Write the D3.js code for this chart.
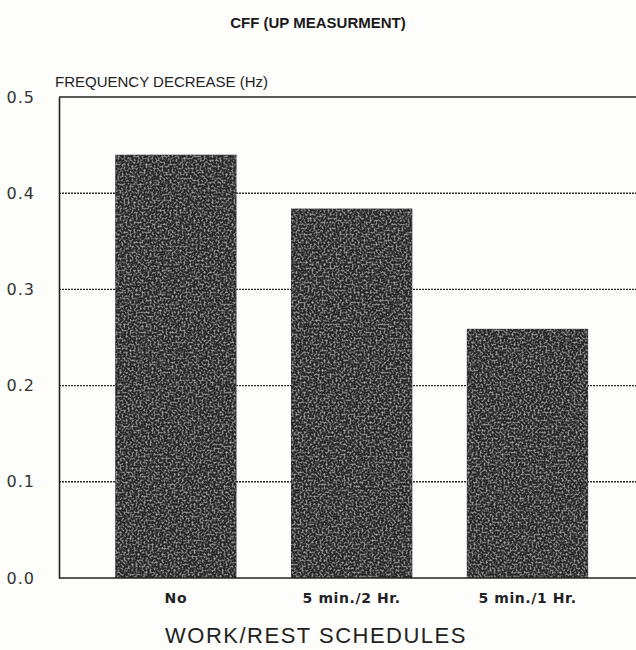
<!DOCTYPE html>
<html lang="en">
<head>
<meta charset="UTF-8">
<title>CFF (UP MEASURMENT)</title>
<script src="https://d3js.org/d3.v7.min.js"></script>
<style>
    body { margin: 0; background: #fdfdfc; }
    svg { display: block; font-family: "Liberation Sans", Arial, sans-serif; }
</style>
</head>
<body>
<div id="chart"></div>
<script>
    // data
    const categories = ["No", "5 min./2 Hr.", "5 min./1 Hr."];
    const values = [0.44, 0.384, 0.259];
    const yTicks = [0.0, 0.1, 0.2, 0.3, 0.4, 0.5];

    const width = 636, height = 650;
    const plotLeft = 59, plotRight = 636, plotTop = 97, plotBottom = 578;

    const svg = d3.select("#chart").append("svg")
        .attr("width", width)
        .attr("height", height);

    // speckle texture for the bars
    const defs = svg.append("defs");
    const f = defs.append("filter").attr("id", "grain")
        .attr("x", 0).attr("y", 0).attr("width", 1).attr("height", 1);
    f.append("feTurbulence").attr("type", "fractalNoise")
        .attr("baseFrequency", 0.5).attr("numOctaves", 2).attr("seed", 3).attr("result", "n");
    f.append("feColorMatrix").attr("in", "n").attr("type", "matrix")
        .attr("values", "0 0 0 0 0.4  0 0 0 0 0.4  0 0 0 0 0.4  0 0 0 -2.6 1.4")
        .attr("result", "spk");
    f.append("feComposite").attr("in", "spk").attr("in2", "SourceGraphic")
        .attr("operator", "in").attr("result", "spk2");
    f.append("feMerge").call(m => {
        m.append("feMergeNode").attr("in", "SourceGraphic");
        m.append("feMergeNode").attr("in", "spk2");
    });

    const y = d3.scaleLinear().domain([0, 0.5]).range([plotBottom, plotTop]);
    const x = d3.scaleBand().domain(categories)
        .range([plotLeft, plotRight])
        .paddingInner(0.31)
        .paddingOuter(0.296)
        .align(0.54);

    // title
    svg.append("text")
        .attr("x", 318).attr("y", 28)
        .attr("text-anchor", "middle")
        .attr("font-size", 15).attr("font-weight", "bold")
        .attr("fill", "#1a1a1a")
        .text("CFF (UP MEASURMENT)");

    // gridlines (dotted)
    svg.append("g").selectAll("line")
        .data(yTicks.filter(d => d > 0 && d < 0.5))
        .join("line")
        .attr("x1", plotLeft).attr("x2", plotRight)
        .attr("y1", d => y(d)).attr("y2", d => y(d))
        .attr("stroke", "#2a2a2a").attr("stroke-width", 1.4)
        .attr("stroke-dasharray", "2,1");

    // top line at 0.5
    svg.append("line")
        .attr("x1", plotLeft).attr("x2", plotRight)
        .attr("y1", y(0.5)).attr("y2", y(0.5))
        .attr("stroke", "#222").attr("stroke-width", 1.6);

    // bars
    svg.append("g").selectAll("rect")
        .data(values)
        .join("rect")
        .attr("x", (d, i) => x(categories[i]))
        .attr("y", d => y(d))
        .attr("width", x.bandwidth())
        .attr("height", d => y(0) - y(d))
        .attr("fill", "#282828")
        .attr("filter", "url(#grain)");

    // y axis
    const yAxis = svg.append("g")
        .attr("transform", `translate(${plotLeft},0)`)
        .call(d3.axisLeft(y).tickValues(yTicks).tickFormat(d3.format(".1f")).tickSize(0).tickPadding(24));
    yAxis.select(".domain").attr("stroke", "#222").attr("stroke-width", 1.6);
    yAxis.selectAll("text").attr("font-size", 16).attr("fill", "#333")
        .attr("letter-spacing", 1)
        .attr("font-family", "DejaVu Sans, sans-serif");

    // x axis
    const xAxis = svg.append("g")
        .attr("transform", `translate(0,${plotBottom})`)
        .call(d3.axisBottom(x).tickSize(0).tickPadding(15));
    xAxis.select(".domain").attr("d", `M${plotLeft},0H${plotRight}`)
        .attr("stroke", "#222").attr("stroke-width", 1.6);
    xAxis.selectAll("text").attr("font-size", 14).attr("fill", "#222")
        .attr("font-family", "DejaVu Sans, sans-serif")
        .attr("font-weight", "bold").attr("letter-spacing", 0.6);

    // axis titles
    svg.append("text")
        .attr("x", 55).attr("y", 87)
        .attr("font-size", 15).attr("fill", "#222")
        .text("FREQUENCY DECREASE (Hz)");

    svg.append("text")
        .attr("x", 316).attr("y", 643)
        .attr("text-anchor", "middle")
        .attr("font-size", 22).attr("fill", "#222")
        .attr("letter-spacing", 1.5)
        .text("WORK/REST SCHEDULES");
</script>
</body>
</html>
